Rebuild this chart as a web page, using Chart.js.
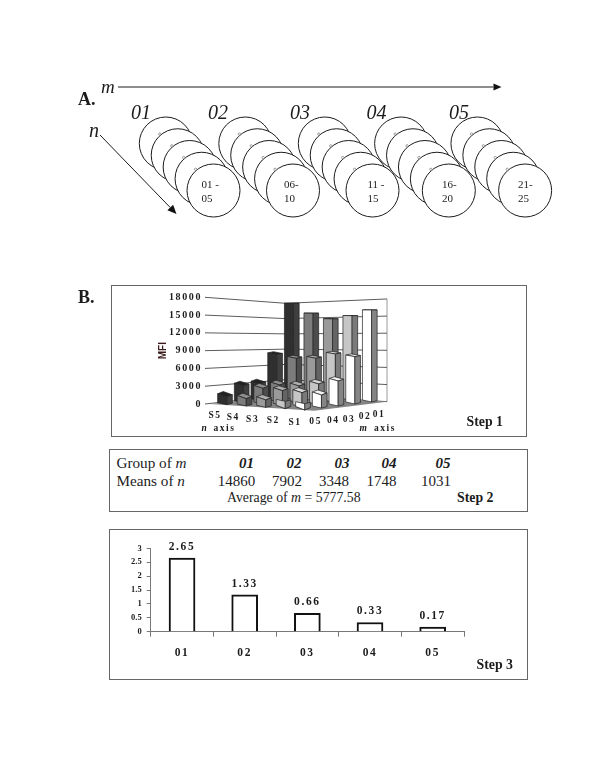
<!DOCTYPE html>
<html>
<head>
<meta charset="utf-8">
<script src="https://cdn.jsdelivr.net/npm/chart.js@4/dist/chart.umd.min.js"></script>
<style>
html,body{margin:0;padding:0;background:#fff;}
#page{position:relative;width:600px;height:777px;overflow:hidden;background:#fff;font-family:"Liberation Serif",serif;color:#1c1c1c;}
canvas{position:absolute;}
.box{position:absolute;border:1px solid #666;box-sizing:border-box;}
.t{position:absolute;white-space:nowrap;line-height:1;}
</style>
</head>
<body>
<div id="page">
  <div class="box" style="left:111px;top:285px;width:416px;height:152px"></div>
  <div class="box" style="left:109px;top:449px;width:419px;height:63px"></div>
  <div class="box" style="left:109px;top:529px;width:419px;height:151px"></div>
  <canvas id="schema" width="500" height="155" style="left:70px;top:70px;width:500px;height:155px"></canvas>
  <canvas id="step1" width="414" height="150" style="left:112px;top:286px;width:414px;height:150px"></canvas>
  <canvas id="step3" width="417" height="148" style="left:110px;top:530px;width:417px;height:148px"></canvas>
</div>
<script>
// ---- Data ----
const groupLabels = ['01','02','03','04','05'];
const plateRanges = [['01 -','05'],['06-','10'],['11 -','15'],['16-','20'],['21-','25']];
const groupPositions = [1, 2, 3, 3.96, 4.92];
const sampleIndex = [1, 2, 3, 4, 5];

const seriesNames = ['S1','S2','S3','S4','S5'];
const valuesS1 = [15525, 7990, 4220, 2190, 1070];
const valuesS2 = [14340, 8210, 3490, 2360, 1240];
const valuesS3 = [13560, 7260, 2925, 2475, 1240];
const valuesS4 = [14290, 7030, 2870, 2640, 1240];
const valuesS5 = [15750, 7425, 2800, 2800, 1300];
const mfiTicks = [0, 3000, 6000, 9000, 12000, 15000, 18000];

const meansOfN = ['14860','7902','3348','1748','1031'];
const averageOfM = '5777.58';

const ratioValues = [2.65, 1.33, 0.66, 0.33, 0.17];
const ratioLabels = ['2.65','1.33','0.66','0.33','0.17'];

// ---- Text helper ----
const page = document.getElementById('page');
function txt(html, x, y, style, align) {
  const s = document.createElement('div');
  s.className = 't';
  s.innerHTML = html;
  s.style.cssText = 'left:' + x + 'px;top:' + y + 'px;transform:translate(' +
    (align === 'left' ? '0' : '-50%') + ',-50%);' + style;
  page.appendChild(s);
}
// Spaced-out tick labels, without touching the axis title
function spacedLabels(scale, spacing) {
  if (scale._spaced) return;
  scale._spaced = true;
  const draw = scale.drawLabels.bind(scale);
  scale.drawLabels = area => {
    scale.ctx.letterSpacing = spacing;
    draw(area);
    scale.ctx.letterSpacing = '0px';
  };
}

// ---- Panel labels ----
txt('A.', 78, 99, 'font-size:18px;font-weight:bold;', 'left');
txt('B.', 78, 297, 'font-size:18px;font-weight:bold;', 'left');
txt('m', 101, 86, 'font-size:19px;font-style:italic;', 'left');
txt('n', 89, 130, 'font-size:20px;font-style:italic;', 'left');

const groupLabelX = [131, 208, 290, 366.5, 449];
groupLabels.forEach((g, k) => txt(g, groupLabelX[k], 112, 'font-size:20px;font-style:italic;', 'left'));

const rangeX = [201.5, 284, 367.5, 442, 518];
plateRanges.forEach((r, k) => {
  txt(r[0], rangeX[k], 184, 'font-size:11px;', 'left');
  txt(r[1], rangeX[k], 197.5, 'font-size:11px;', 'left');
});

// ---- Panel A: plates as bubbles ----
const plateDatasets = groupPositions.map(pos => ({
  data: sampleIndex.map(n => ({ x: pos + (n - 5) * 0.15, y: n })),
  radius: 26.5, borderWidth: 1, borderColor: '#1c1c1c', backgroundColor: '#fff', clip: false
}));
plateDatasets.reverse(); // dataset 0 is painted last, plates stack left to right
const notchDataset = {
  data: groupPositions.flatMap(pos => sampleIndex.slice(1).map(n => ({ x: pos + (n - 5) * 0.15 - 0.225, y: n - 1.8 }))),
  radius: 1.2, borderWidth: 0.7, borderColor: '#777', backgroundColor: '#fff', clip: false
};
const arrowPlugin = {
  id: 'arrows',
  afterDatasetsDraw(chart) {
    const c = chart.ctx;
    const arrow = (x1, y1, x2, y2, len, half) => {
      const a = Math.atan2(y2 - y1, x2 - x1);
      c.save();
      c.strokeStyle = '#1c1c1c'; c.fillStyle = '#111'; c.lineWidth = 1;
      c.beginPath(); c.moveTo(x1, y1); c.lineTo(x2 - len * Math.cos(a), y2 - len * Math.sin(a)); c.stroke();
      c.translate(x2, y2); c.rotate(a);
      c.beginPath(); c.moveTo(0, 0); c.lineTo(-len, -half); c.lineTo(-len, half); c.closePath(); c.fill();
      c.restore();
    };
    arrow(48, 17, 431.5, 17, 8, 3.5);
    arrow(30, 65, 106.5, 144, 9, 4);
  }
};
new Chart(document.getElementById('schema'), {
  type: 'bubble',
  data: { datasets: [notchDataset, ...plateDatasets] },
  options: {
    responsive: false, animation: false, events: [],
    layout: { padding: 0, autoPadding: false },
    plugins: { legend: { display: false }, tooltip: { enabled: false } },
    scales: {
      x: { display: false, min: 1 + (70 - 213.5) / 79.5, max: 1 + (570 - 213.5) / 79.5 },
      y: { display: false, reverse: true, min: 5 + (70 - 190.5) / 11.75, max: 5 + (225 - 190.5) / 11.75 }
    }
  },
  plugins: [arrowPlugin]
});

// ---- Step 1: 3D-looking floating bars ----
const stepN = 19.5, stepM = 16.7, firstCentre = 18;     // screen step along the n and m floor edges
const floorN = -4 * 56.25, floorM = 6 * 56.25, floorStart = -2 * 56.25; // rise of the floor in MFI units
const seriesValues = [valuesS1, valuesS2, valuesS3, valuesS4, valuesS5];
const faceStyles = [
  { front: '#ffffff', side: '#858585', top: '#f4f4f4' },
  { front: '#c6c6c6', side: '#7a7a7a', top: '#d8d8d8' },
  { front: '#9a9a9a', side: '#646464', top: '#adadad' },
  { front: '#7c7c7c', side: '#4c4c4c', top: '#8e8e8e' },
  { front: '#2f2f2f', side: '#3f3f3f', top: '#222222' }
];
const cubeDatasets = seriesValues.map((vals, s) => {
  const i = 4 - s;
  return {
    label: seriesNames[s],
    backgroundColor: faceStyles[s].front,
    sideColor: faceStyles[s].side,
    topColor: faceStyles[s].top,
    data: vals.map((v, k) => {
      const j = 4 - k;
      const floor = floorStart + floorN * i + floorM * j;
      return { x: firstCentre + stepN * i + stepM * j, y: [floor, floor + v] };
    })
  };
});
const mfiX = { back: 78.7, right: 180 };
const wallPlugin = {
  id: 'walls',
  beforeDatasetsDraw(chart) {
    const c = chart.ctx, xs = chart.scales.x, ys = chart.scales.y;
    const backV = v => 1519 + v / 18000 * (16987 - 1519);
    const rightV = v => 394 + v / 18000 * (17719 - 394);
    c.save();
    c.strokeStyle = '#9a9a9a'; c.lineWidth = 1;
    c.beginPath();
    c.moveTo(xs.getPixelForValue(mfiX.right), ys.getPixelForValue(rightV(0)));
    c.lineTo(xs.getPixelForValue(mfiX.right), ys.getPixelForValue(rightV(18000)));
    c.stroke();
    c.strokeStyle = '#5c5c5c';
    ys.ticks.forEach(t => {
      c.beginPath();
      c.moveTo(xs.getPixelForValue(-2), ys.getPixelForValue(t.value));
      c.lineTo(xs.getPixelForValue(mfiX.back), ys.getPixelForValue(backV(t.value)));
      c.lineTo(xs.getPixelForValue(mfiX.right), ys.getPixelForValue(rightV(t.value)));
      c.stroke();
    });
    // floor
    c.fillStyle = '#858585';
    c.beginPath();
    c.moveTo(xs.getPixelForValue(3), ys.getPixelForValue(0));
    c.lineTo(xs.getPixelForValue(mfiX.back), ys.getPixelForValue(backV(0)));
    c.lineTo(xs.getPixelForValue(mfiX.right), ys.getPixelForValue(rightV(0)));
    c.lineTo(xs.getPixelForValue(107), ys.getPixelForValue(-1120));
    c.closePath();
    c.fill();
    c.restore();
  },
  beforeDatasetDraw(chart, args) {
    const c = chart.ctx, ds = chart.data.datasets[args.index];
    const poly = (pts, fill) => {
      c.beginPath();
      pts.forEach((p, k) => k ? c.lineTo(p[0], p[1]) : c.moveTo(p[0], p[1]));
      c.closePath();
      c.fillStyle = fill; c.fill(); c.stroke();
    };
    c.save();
    c.strokeStyle = '#222'; c.lineWidth = 0.7;
    args.meta.data.forEach(el => {
      const x0 = el.x - el.width / 2, x1 = el.x + el.width / 2, xc = x0 + el.width * 0.62;
      const h = el.base - el.y;
      const tilt = Math.max(0, Math.min(3.5, 3.5 - h / 25));
      poly([[x0, el.y - tilt], [xc, el.y], [x1, el.y - tilt * 0.7], [x0 + x1 - xc, el.y - tilt * 1.7]], ds.topColor);
      poly([[x0, el.y - tilt], [xc, el.y], [xc, el.base], [x0, el.base - 2]], ds.backgroundColor);
      poly([[xc, el.y], [x1, el.y - tilt * 0.7], [x1, el.base - 1.4], [xc, el.base]], ds.sideColor);
    });
    c.restore();
    return false;
  }
};
new Chart(document.getElementById('step1'), {
  type: 'bar',
  data: { datasets: cubeDatasets },
  options: {
    responsive: false, animation: false, events: [],
    layout: { padding: { left: 45, right: 139, top: 11.3, bottom: 32 } },
    plugins: { legend: { display: false }, tooltip: { enabled: false } },
    datasets: { bar: { barThickness: 14.7, grouped: false, clip: false } },
    scales: {
      x: { type: 'linear', display: false, min: 0, max: 180, offset: false },
      y: {
        min: 0, max: 18000,
        afterFit(s) { s.width = 50; spacedLabels(s, '1.6px'); },
        afterBuildTicks(s) { s.ticks = mfiTicks.map(v => ({ value: v })); },
        border: { display: false },
        grid: { display: false, drawTicks: false },
        title: { display: true, text: 'MFI', color: '#3a1c1c', padding: 0,
          font: { family: 'Liberation Sans', size: 10, weight: 'bold' } },
        ticks: { padding: 5, color: '#1c1c1c', callback: v => String(v),
          font: { family: 'Liberation Serif', size: 10, weight: 'bold' } }
      }
    }
  },
  plugins: [wallPlugin]
});

const axisTickStyle = 'font-size:9.5px;font-weight:bold;letter-spacing:1.6px;';
const nTickPos = [[295, 422.7], [273.3, 421], [252.7, 420], [233.3, 417.7], [215, 416]];
seriesNames.forEach((n, k) => txt(n, nTickPos[k][0], nTickPos[k][1], axisTickStyle));
const mTickPos = [[379, 415], [365, 417.3], [349, 420], [333.3, 421], [315.7, 422]];
groupLabels.forEach((m, k) => txt(m, mTickPos[k][0], mTickPos[k][1], axisTickStyle));
txt('n', 205, 429, axisTickStyle + 'font-style:italic;');
txt('axis', 224.5, 428.5, axisTickStyle);
txt('m', 364, 429, axisTickStyle + 'font-style:italic;');
txt('axis', 385, 428.5, axisTickStyle);
txt('Step 1', 466.5, 422, 'font-size:13.8px;font-weight:bold;', 'left');

// ---- Step 2: table ----
txt('Group of <i>m</i>', 116.5, 463, 'font-size:15.2px;', 'left');
txt('Means of <i>n</i>', 116.5, 481, 'font-size:15.2px;', 'left');
const groupColX = [246.5, 294, 342, 389, 443];
groupLabels.forEach((g, k) => txt(g, groupColX[k], 463, 'font-size:15px;font-weight:bold;font-style:italic;'));
const meanColX = [236.5, 287, 334, 381.5, 436];
meansOfN.forEach((v, k) => txt(v, meanColX[k], 481, 'font-size:15px;'));
txt('Average of <i>m</i> = ' + averageOfM, 227, 498, 'font-size:13.8px;', 'left');
txt('Step 2', 457, 498, 'font-size:13.8px;font-weight:bold;', 'left');

// ---- Step 3: bar chart ----
const barLabelPlugin = {
  id: 'barLabels',
  afterDatasetsDraw(chart) {
    const c = chart.ctx, meta = chart.getDatasetMeta(0);
    c.save();
    c.font = 'bold 11.5px "Liberation Serif"';
    c.letterSpacing = '1.6px';
    c.fillStyle = '#1c1c1c'; c.textAlign = 'center'; c.textBaseline = 'middle';
    meta.data.forEach((el, k) => c.fillText(ratioLabels[k], el.x, el.y - 11));
    c.restore();
  }
};
new Chart(document.getElementById('step3'), {
  type: 'bar',
  data: {
    labels: groupLabels,
    datasets: [{ data: ratioValues, backgroundColor: '#fff', borderColor: '#111', borderWidth: 2, barThickness: 26 }]
  },
  options: {
    responsive: false, animation: false, events: [],
    layout: { padding: { left: 0, right: 63, top: 18.3, bottom: 16 } },
    plugins: { legend: { display: false }, tooltip: { enabled: false } },
    scales: {
      x: {
        afterFit(s) { s.height = 30.3; spacedLabels(s, '1.6px'); },
        border: { color: '#777' },
        grid: { drawOnChartArea: false, color: '#777', tickLength: 5 },
        ticks: { padding: 9, color: '#1c1c1c', maxRotation: 0,
          font: { family: 'Liberation Serif', size: 11.5, weight: 'bold' } }
      },
      y: {
        min: 0, max: 3,
        afterFit(s) { s.width = 40.7; },
        border: { color: '#777' },
        grid: { drawOnChartArea: false, color: '#777', tickLength: 4 },
        ticks: { stepSize: 0.5, padding: 5, color: '#1c1c1c', callback: v => String(v),
          font: { family: 'Liberation Serif', size: 8.5, weight: 'bold' } }
      }
    }
  },
  plugins: [barLabelPlugin]
});
txt('Step 3', 476.5, 665, 'font-size:13.8px;font-weight:bold;', 'left');
</script>
</body>
</html>
